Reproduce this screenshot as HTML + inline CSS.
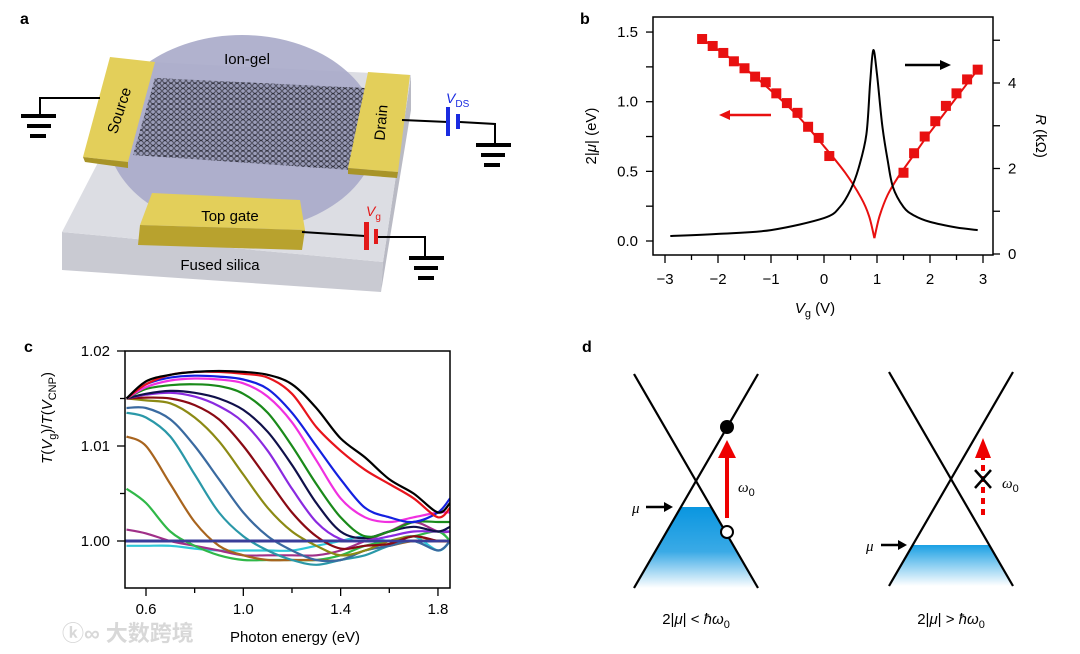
<!DOCTYPE html>
<html><head><meta charset="utf-8">
<style>
html,body{margin:0;padding:0;background:#fff;}
svg{display:block;font-family:"Liberation Sans","Noto Sans CJK SC",sans-serif;}
</style></head>
<body>
<svg id="fig" width="1080" height="654" viewBox="0 0 1080 654" xmlns="http://www.w3.org/2000/svg">
<defs>
  <pattern id="hex" width="6" height="5.2" patternUnits="userSpaceOnUse">
    <rect width="6" height="5.2" fill="#9a9cb8"/>
    <circle cx="3" cy="2.6" r="2.3" fill="none" stroke="#2a2a35" stroke-width="0.8"/>
  </pattern>
  <linearGradient id="fillL" x1="0" y1="0" x2="0" y2="1">
    <stop offset="0" stop-color="#0a96e0"/><stop offset="0.55" stop-color="#3aaae6"/><stop offset="1" stop-color="#ffffff"/>
  </linearGradient>
  <linearGradient id="fillR" x1="0" y1="0" x2="0" y2="1">
    <stop offset="0" stop-color="#1aa0e4"/><stop offset="1" stop-color="#ffffff"/>
  </linearGradient>
  <clipPath id="clipC"><rect x="125" y="351" width="325" height="237"/></clipPath>
</defs>

<!-- ===== Panel a ===== -->
<g>
  <text x="20" y="24" font-size="16" font-weight="bold">a</text>
  <polygon points="62,232 383,262 381,292 62,270" fill="#c9cad2"/>
  <polygon points="383,262 411,75 411,110 381,292" fill="#b9bac4"/>
  <polygon points="62,232 383,262 411,75 150,62" fill="#dcdde3"/>
  <ellipse cx="242" cy="133" rx="135" ry="98" fill="#a9aac9" opacity="0.9"/>
  <polygon points="155,78 365,88 350,170 133,155" fill="url(#hex)"/>
  <polygon points="110,57 155,62 128,162 83,157" fill="#e3cf5a"/>
  <polygon points="128,162 83,157 85,162 128,168" fill="#a89428"/>
  <text transform="translate(124,112) rotate(-72)" font-size="15" text-anchor="middle">Source</text>
  <polygon points="368,72 410,75 398,172 348,168" fill="#e3cf5a"/>
  <polygon points="348,168 398,172 397,178 348,174" fill="#a89428"/>
  <text transform="translate(386,123) rotate(-85)" font-size="15" text-anchor="middle">Drain</text>
  <polygon points="152,193 300,200 305,230 140,225" fill="#e3cf5a"/>
  <polygon points="140,225 305,230 302,250 138,245" fill="#b8a22e"/>
  <text x="230" y="221" font-size="15" text-anchor="middle">Top gate</text>
  <text x="247" y="64" font-size="15" text-anchor="middle">Ion-gel</text>
  <text x="220" y="270" font-size="15" text-anchor="middle">Fused silica</text>
  <g stroke="#000" fill="none" stroke-width="2">
    <polyline points="100,98 40,98 40,116"/>
  </g>
  <g fill="#000">
    <rect x="21" y="114" width="35" height="4"/><rect x="27" y="124" width="24" height="4"/><rect x="30" y="134" width="16" height="4"/>
  </g>
  <g stroke="#000" fill="none" stroke-width="2">
    <polyline points="402,120 448,122"/><polyline points="460,122 495,124 495,145"/>
  </g>
  <g fill="#1a2be0"><rect x="446" y="107" width="4" height="29"/><rect x="456" y="114" width="4" height="15"/></g>
  <text x="446" y="103" font-size="14" fill="#1a2be0"><tspan font-style="italic">V</tspan><tspan font-size="10" dy="4">DS</tspan></text>
  <g fill="#000">
    <rect x="476" y="143" width="35" height="4"/><rect x="481" y="153" width="24" height="4"/><rect x="484" y="163" width="16" height="4"/>
  </g>
  <g stroke="#000" fill="none" stroke-width="2">
    <polyline points="302,232 365,236"/><polyline points="378,237 425,237 425,258"/>
  </g>
  <g fill="#e21a1a"><rect x="364" y="222" width="5" height="28"/><rect x="374" y="229" width="4" height="15"/></g>
  <text x="366" y="216" font-size="14" fill="#e21a1a"><tspan font-style="italic">V</tspan><tspan font-size="10" dy="4">g</tspan></text>
  <g fill="#000">
    <rect x="409" y="256" width="35" height="4"/><rect x="414" y="266" width="24" height="4"/><rect x="418" y="276" width="16" height="4"/>
  </g>
</g>

<!-- ===== Panel b ===== -->
<g id="panelB">
  <text x="580" y="24" font-size="16" font-weight="bold">b</text>
</g>

<!-- ===== Panel c ===== -->
<g id="panelC">
  <text x="24" y="352" font-size="16" font-weight="bold">c</text>
  <text x="62" y="641" font-size="22" fill="#d8d8d8" font-weight="bold">ⓚ∞ 大数跨境</text>
</g>

<!-- ===== Panel d ===== -->
<g>
  <text x="582" y="352" font-size="16" font-weight="bold">d</text>
  <polygon points="681,507 711,507 758,588 634,588" fill="url(#fillL)"/>
  <line x1="634" y1="374" x2="758" y2="588" stroke="#000" stroke-width="2.2"/>
  <line x1="758" y1="374" x2="634" y2="588" stroke="#000" stroke-width="2.2"/>
  <line x1="727" y1="518" x2="727" y2="455" stroke="#e00" stroke-width="4"/>
  <polygon points="718,458 736,458 727,440" fill="#e00"/>
  <circle cx="727" cy="427" r="7" fill="#000"/>
  <circle cx="727" cy="532" r="6" fill="#fff" stroke="#000" stroke-width="2"/>
  <text x="738" y="492" font-size="15" font-style="italic" font-family="Liberation Serif,serif">ω<tspan font-size="11" dy="4" font-style="normal" font-family="Liberation Sans,sans-serif">0</tspan></text>
  <text x="632" y="513" font-size="15" font-style="italic" font-family="Liberation Serif,serif">μ</text>
  <line x1="646" y1="507" x2="666" y2="507" stroke="#000" stroke-width="2.5"/><polygon points="664,502 673,507 664,512" fill="#000"/>
  <text x="696" y="624" font-size="15" text-anchor="middle">2|<tspan font-style="italic">μ</tspan>| &lt; <tspan font-style="italic">ħω</tspan><tspan font-size="11" dy="4">0</tspan></text>

  <polygon points="913,545 989,545 1013,586 889,586" fill="url(#fillR)"/>
  <line x1="889" y1="372" x2="1013" y2="586" stroke="#000" stroke-width="2.2"/>
  <line x1="1013" y1="372" x2="889" y2="586" stroke="#000" stroke-width="2.2"/>
  <line x1="983" y1="515" x2="983" y2="455" stroke="#e00" stroke-width="4" stroke-dasharray="6,5"/>
  <polygon points="975,458 991,458 983,438" fill="#e00"/>
  <path d="M975 470 L991 488 M991 470 L975 488" stroke="#000" stroke-width="2.5"/>
  <text x="1002" y="488" font-size="15" font-style="italic" font-family="Liberation Serif,serif">ω<tspan font-size="11" dy="4" font-style="normal" font-family="Liberation Sans,sans-serif">0</tspan></text>
  <text x="866" y="551" font-size="15" font-style="italic" font-family="Liberation Serif,serif">μ</text>
  <line x1="881" y1="545" x2="900" y2="545" stroke="#000" stroke-width="2.5"/><polygon points="898,540 907,545 898,550" fill="#000"/>
  <text x="951" y="624" font-size="15" text-anchor="middle">2|<tspan font-style="italic">μ</tspan>| &gt; <tspan font-style="italic">ħω</tspan><tspan font-size="11" dy="4">0</tspan></text>
</g>
</svg>

<script>
// ---- Panel b data ----
const bSquareVg = [-2.3,-2.1,-1.9,-1.7,-1.5,-1.3,-1.1,-0.9,-0.7,-0.5,-0.3,-0.1,0.1,1.5,1.7,1.9,2.1,2.3,2.5,2.7,2.9];
const bSquareMu = [1.45,1.40,1.35,1.29,1.24,1.18,1.14,1.06,0.99,0.92,0.82,0.74,0.61,0.49,0.63,0.75,0.86,0.97,1.06,1.16,1.23];
const bFitVgLeft = [-2.3,-1.5,-1.0,-0.5,0,0.4,0.7,0.85,0.95];
const bFitMuLeft = [1.45,1.24,1.08,0.90,0.68,0.49,0.31,0.18,0.02];
const bFitVgRight = [0.95,1.05,1.2,1.4,1.7,2.0,2.5,2.9];
const bFitMuRight = [0.02,0.18,0.33,0.46,0.62,0.78,1.03,1.23];
const bResVg = [-2.9,-2.0,-1.0,0.0,0.3,0.5,0.65,0.8,0.87,0.93,1.0,1.1,1.2,1.3,1.5,1.7,2.0,2.5,2.9];
const bResR  = [0.42,0.47,0.56,0.84,1.10,1.50,2.00,2.80,4.00,4.77,4.20,3.00,2.20,1.57,1.10,0.90,0.75,0.62,0.56];
const bXTicks = [-3,-2,-1,0,1,2,3];
const bYTicks = [0.0,0.5,1.0,1.5];
const bRTicks = [0,2,4];

// ---- Panel c data ----
const cX = [0.52,0.6,0.7,0.8,0.9,1.0,1.1,1.2,1.3,1.4,1.5,1.6,1.7,1.8,1.85];
const cColors = ["#000000","#e8141c","#1420e0","#f030e0","#1a8a1a","#10104a","#8a2ae0","#8a0a14","#8c8a14","#3a6aa0","#2a98a8","#a8641e","#30b848","#a03088","#30c8d8"];
const cSeries = [
 [15,16.8,17.5,17.8,17.9,17.8,17.5,16.5,14,10.8,8.8,6.5,5,3,4],
 [15,16.5,17.5,17.8,17.8,17.6,17.2,15.5,12,9.5,7.5,6,4.5,2.5,3.5],
 [15,16.5,17.2,17.4,17.3,17.0,16,13.5,10,6.5,3.5,2.5,2,3,4.5],
 [15,16.2,16.9,17.1,17,16.6,15.2,12.5,8.5,4.5,2.5,2,2.5,3,3],
 [15,16,16.4,16.5,16.3,15.5,13.5,10,6,2.5,0.5,1,2,2,2],
 [15,15.5,15.8,15.6,15,13.8,11.5,8,4,1,0.3,1,1.5,1,1.5],
 [15,15.4,15.6,15.2,14.2,12.5,9.5,5.5,2,0.2,0,0.5,1,1,1],
 [15,15.1,15,14.3,12.8,10,6.5,3,0.5,-0.8,-0.5,-0.3,0.5,0,0],
 [15,14.8,14.5,13,10.5,7,3.5,1,-0.5,-1.5,-1,0,0.5,0,0],
 [14,14,12.8,10,6.5,3,0.5,-1,-2,-2,-1,-0.5,0,-1,0],
 [13.5,13,11,7,3,0.5,-1,-2,-2.5,-2,-1.5,-0.5,0,-1,0],
 [11,10,6,2,-0.5,-1.5,-2,-2,-2,-2,-1,-0.5,0,0,0],
 [5.5,4,1,-0.5,-1.5,-2,-2,-2,-2,-1.5,-0.5,0,0.5,1,0],
 [1.2,0.8,0,-0.5,-1,-1.5,-1.5,-1.5,-1.5,-1,0,1,2,1,1],
 [-0.5,-0.5,-0.5,-0.8,-1,-1,-1,-1,-0.5,0,0.5,0,0.5,-1,0]
];
const cXTicks = [0.6,1.0,1.4,1.8];
const cXMinor = [0.8,1.2,1.6];
const cYTicks = [1.00,1.01,1.02];
const cYMinor = [1.005,1.015];

const NS = "http://www.w3.org/2000/svg";
function mk(parent, tag, attrs){ const e=document.createElementNS(NS,tag); for(const k in attrs) e.setAttribute(k,attrs[k]); parent.appendChild(e); return e; }
function smooth(pts){
  let d="M"+pts[0][0].toFixed(1)+" "+pts[0][1].toFixed(1);
  for(let i=0;i<pts.length-1;i++){
    const p0=pts[Math.max(0,i-1)],p1=pts[i],p2=pts[i+1],p3=pts[Math.min(pts.length-1,i+2)];
    const c1=[p1[0]+(p2[0]-p0[0])/6,p1[1]+(p2[1]-p0[1])/6], c2=[p2[0]-(p3[0]-p1[0])/6,p2[1]-(p3[1]-p1[1])/6];
    d+=" C"+c1[0].toFixed(1)+" "+c1[1].toFixed(1)+" "+c2[0].toFixed(1)+" "+c2[1].toFixed(1)+" "+p2[0].toFixed(1)+" "+p2[1].toFixed(1);
  }
  return d;
}

// ---- Panel b drawing ----
(function(){
  const g=document.getElementById("panelB");
  const bx=v=>665+(v+3)*53, by=v=>241-v*139.3, br=v=>254-v*42.75;
  const frame=mk(g,"rect",{x:653,y:17,width:340,height:238,fill:"none",stroke:"#000","stroke-width":1.5});
  
  
  for(let v=-3;v<=3.01;v+=0.5){ const x=bx(v); mk(g,"line",{x1:x,y1:255,x2:x,y2:Number.isInteger(v)?263:260,stroke:"#000","stroke-width":1.3}); }
  bXTicks.forEach(v=>{ const t=mk(g,"text",{x:bx(v),y:284,"font-size":15,"text-anchor":"middle"}); t.textContent=(v<0?"\u2212"+(-v):v);
      });
  for(let v=0;v<=1.51;v+=0.25){ const y=by(v); mk(g,"line",{x1:646,y1:y,x2:653,y2:y,stroke:"#000","stroke-width":1.3}); }
  bYTicks.forEach(v=>{ const t=mk(g,"text",{x:638,y:by(v)+5,"font-size":15,"text-anchor":"end"}); t.textContent=v.toFixed(1);
      });
  for(let v=0;v<=5;v++){ const y=br(v); mk(g,"line",{x1:993,y1:y,x2:1000,y2:y,stroke:"#000","stroke-width":1.3}); }
  bRTicks.forEach(v=>{ const t=mk(g,"text",{x:1008,y:br(v)+5,"font-size":15}); t.textContent=v;
      });
  const yt=mk(g,"text",{transform:"translate(596,136) rotate(-90)","font-size":15,"text-anchor":"middle"});
  yt.innerHTML='2|<tspan font-style="italic">μ</tspan>| (eV)';
   
  const rt=mk(g,"text",{transform:"translate(1036,136) rotate(90)","font-size":15,"text-anchor":"middle"});
  rt.innerHTML='<tspan font-style="italic">R</tspan> (kΩ)';
   
  const xt=mk(g,"text",{x:815,y:313,"font-size":15,"text-anchor":"middle"});
  xt.innerHTML='<tspan font-style="italic">V</tspan><tspan font-size="11" dy="4">g</tspan><tspan dy="-4"> (V)</tspan>';
   
  // red fit curve
  const fl=mk(g,"path",{d:smooth(bFitVgLeft.map((v,i)=>[bx(v),by(bFitMuLeft[i])])),fill:"none",stroke:"#e81010","stroke-width":2});
   
  const fr=mk(g,"path",{d:smooth(bFitVgRight.map((v,i)=>[bx(v),by(bFitMuRight[i])])),fill:"none",stroke:"#e81010","stroke-width":2});
   
  // resistance
  const rc=mk(g,"path",{d:smooth(bResVg.map((v,i)=>[bx(v),br(bResR[i])])),fill:"none",stroke:"#000","stroke-width":2});
   
  bSquareVg.forEach((v,i)=>{ const s=mk(g,"rect",{x:bx(v)-5,y:by(bSquareMu[i])-5,width:10,height:10,fill:"#e81010"});
      });
  // arrows
  const a1=mk(g,"g",{});  
  mk(a1,"line",{x1:771,y1:115,x2:728,y2:115,stroke:"#e81010","stroke-width":2.5});
  mk(a1,"polygon",{points:"730,110 719,115 730,120",fill:"#e81010"});
  const a2=mk(g,"g",{});  
  mk(a2,"line",{x1:905,y1:65,x2:942,y2:65,stroke:"#000","stroke-width":2.5});
  mk(a2,"polygon",{points:"940,60 951,65 940,70",fill:"#000"});
})();

// ---- Panel c drawing ----
(function(){
  const g=document.getElementById("panelC");
  const cx=v=>146+(v-0.6)*243.3, cy=v=>541-v*9.5; // v in 1e-3 units offset
  const cyv=v=>541-(v-1.0)*9500;
  const cl=mk(g,"g",{"clip-path":"url(#clipC)"});
  const zl=mk(cl,"line",{x1:125,y1:cy(0),x2:450,y2:cy(0),stroke:"#3a3e9a","stroke-width":3});
   
  for(let k=cSeries.length-1;k>=0;k--){
    const p=mk(cl,"path",{d:smooth(cX.map((x,i)=>[cx(x),cy(cSeries[k][i])])),fill:"none",stroke:cColors[k],"stroke-width":2.2});
     
  }
  const zl2=mk(cl,"line",{x1:125,y1:cy(0),x2:450,y2:cy(0),stroke:"#3a3e9a","stroke-width":2.5});
  const fr=mk(g,"rect",{x:125,y:351,width:325,height:237,fill:"none",stroke:"#000","stroke-width":1.5});
   
  cXTicks.forEach(v=>{ mk(g,"line",{x1:cx(v),y1:588,x2:cx(v),y2:596,stroke:"#000","stroke-width":1.3});
    const t=mk(g,"text",{x:cx(v),y:614,"font-size":15,"text-anchor":"middle"}); t.textContent=v.toFixed(1);
      });
  cXMinor.forEach(v=>mk(g,"line",{x1:cx(v),y1:588,x2:cx(v),y2:593,stroke:"#000","stroke-width":1.3}));
  cYTicks.forEach(v=>{ mk(g,"line",{x1:117,y1:cyv(v),x2:125,y2:cyv(v),stroke:"#000","stroke-width":1.3});
    const t=mk(g,"text",{x:110,y:cyv(v)+5,"font-size":15,"text-anchor":"end"}); t.textContent=v.toFixed(2);
      });
  cYMinor.forEach(v=>mk(g,"line",{x1:120,y1:cyv(v),x2:125,y2:cyv(v),stroke:"#000","stroke-width":1.3}));
  const yt=mk(g,"text",{transform:"translate(52,418) rotate(-90)","font-size":15,"text-anchor":"middle"});
  yt.innerHTML='<tspan font-style="italic">T</tspan>(<tspan font-style="italic">V</tspan><tspan font-size="11" dy="4">g</tspan><tspan dy="-4">)/</tspan><tspan font-style="italic">T</tspan>(<tspan font-style="italic">V</tspan><tspan font-size="11" dy="4">CNP</tspan><tspan dy="-4">)</tspan>';
   
  const xt=mk(g,"text",{x:295,y:642,"font-size":15,"text-anchor":"middle"}); xt.textContent="Photon energy (eV)";
   
})();
</script>
</body></html>
